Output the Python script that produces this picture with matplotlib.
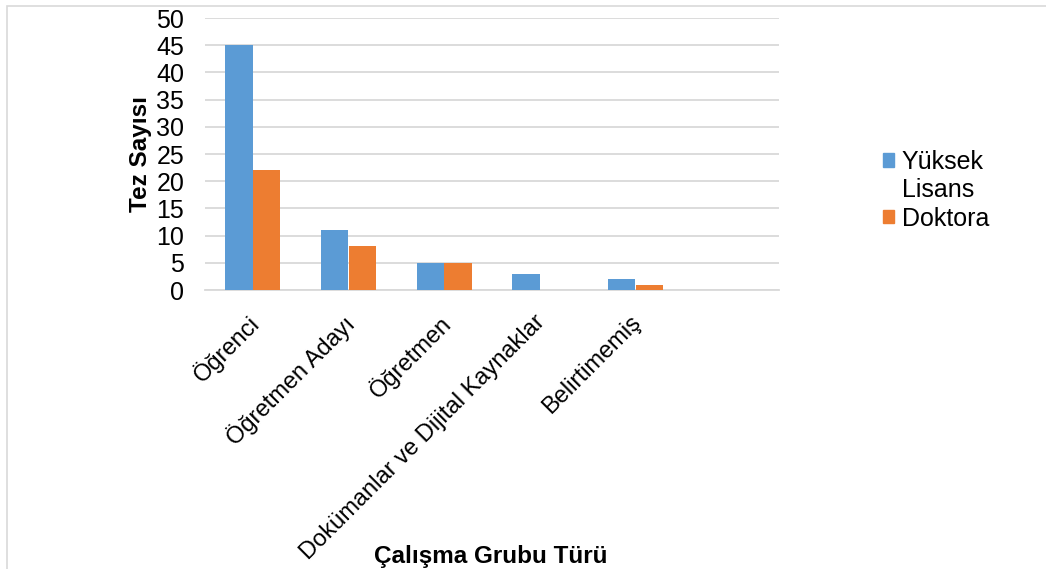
import numpy as np
import matplotlib.pyplot as plt
import matplotlib.transforms as mtransforms
from matplotlib.patches import Rectangle, Patch

plt.rcParams['font.family'] = ['Liberation Sans', 'DejaVu Sans']

categories = ["Öğrenci", "Öğretmen Adayı", "Öğretmen",
              "Dokümanlar ve Dijital Kaynaklar", "Belirtimemiş", ""]
yuksek_lisans = [45, 11, 5, 3, 2, 0]
doktora = [22, 8, 5, 0, 1, 0]
series_names = ["Yüksek Lisans", "Doktora"]
colors = ['#5B9BD5', '#ED7D31']
yticks = [0, 5, 10, 15, 20, 25, 30, 35, 40, 45, 50]

W, H = 1046, 569
FS = 18
fig = plt.figure(figsize=(W / 100, H / 100), dpi=100)
ax = fig.add_axes([205 / W, 1 - 290 / H, (779 - 205) / W, (290 - 18) / H])

x = np.arange(len(categories))
bw = 0.286
ax.bar(x - bw / 2, yuksek_lisans, bw, color=colors[0], label=series_names[0], zorder=3)
ax.bar(x + bw / 2, doktora, bw, color=colors[1], label=series_names[1], zorder=3)

ax.set_xlim(-0.5, len(categories) - 0.5)
ax.set_ylim(0, 50)
ax.set_yticks(yticks)
ax.set_yticklabels([str(v) for v in yticks], fontsize=FS)
ax.yaxis.grid(True, color='#d9d9d9', linewidth=1.3, zorder=0)
ax.set_axisbelow(True)
for s in ['left', 'right', 'top']:
    ax.spines[s].set_visible(False)
ax.spines['bottom'].set_color('#d9d9d9')
ax.spines['bottom'].set_linewidth(1.3)
ax.tick_params(axis='y', length=0, pad=15)

ax.set_xticks(x)
ax.set_xticklabels(categories, rotation=45, ha='right', rotation_mode='anchor',
                   fontsize=17)
ax.tick_params(axis='x', length=0, pad=15)
shift = mtransforms.ScaledTranslation(-6 / 100, 0, fig.dpi_scale_trans)
for lbl in ax.get_xticklabels():
    lbl.set_transform(lbl.get_transform() + shift)

ax.set_ylabel("Tez Sayısı", fontsize=17.5, fontweight='bold', labelpad=3)
fig.text(491 / W, 1 - 556 / H, "Çalışma Grubu Türü", fontsize=17.5,
         fontweight='bold', ha='center', va='center')

# legend: the long series name wraps onto a second line, marker stays on the first
first, rest = series_names[0].split(" ", 1)
handles = [Patch(color=colors[0]), Patch(fill=False, edgecolor='none'),
           Patch(color=colors[1])]
labels = [first, rest, series_names[1]]
fig.legend(handles, labels, loc='upper left',
           bbox_to_anchor=(873 / W, 1 - 140 / H),
           frameon=False, fontsize=FS, handlelength=0.45,
           handleheight=0.45, handletextpad=0.3, labelspacing=0.17,
           borderaxespad=0)

# outer chart frame (top and left edges visible)
fig.patches.append(Rectangle((6.5 / W, -0.1), 1.2, 1 - 6.5 / H + 0.1,
                             transform=fig.transFigure, fill=False,
                             edgecolor='#d9d9d9', linewidth=1.2))

fig.savefig('out.png', dpi=100)
